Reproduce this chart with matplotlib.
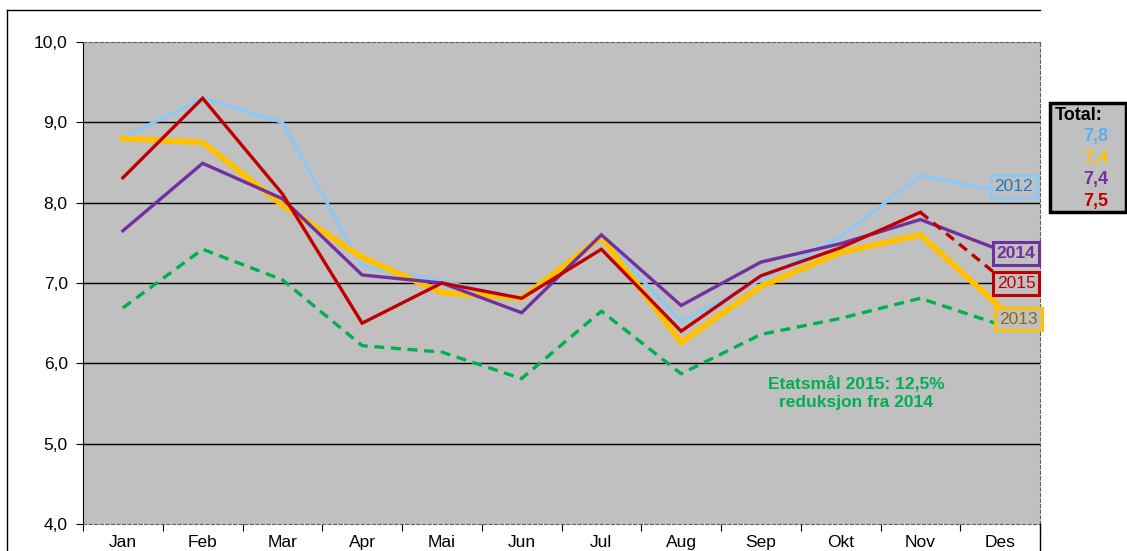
import numpy as np
import matplotlib.pyplot as plt
import matplotlib as mpl
from matplotlib.patches import Rectangle

#-----------------------------------------------------------------
#                            Data
#-----------------------------------------------------------------

months = ['Jan','Feb','Mar','Apr','Mai','Jun','Jul','Aug','Sep','Okt','Nov','Des']

v2012 = [8.81, 9.30, 9.00, 7.21, 7.02, 6.81, 7.58, 6.52, 7.04, 7.57, 8.34, 8.14]
v2013 = [8.80, 8.75, 7.97, 7.32, 6.88, 6.81, 7.57, 6.26, 6.96, 7.38, 7.60, 6.70]
v2014 = [7.65, 8.49, 8.05, 7.10, 7.00, 6.63, 7.60, 6.72, 7.26, 7.49, 7.79, 7.41]
v2015 = [8.31, 9.30, 8.11, 6.50, 7.00, 6.81, 7.42, 6.40, 7.09, 7.44, 7.88, 7.07]
goal = [6.69, 7.42, 7.04, 6.22, 6.14, 5.81, 6.65, 5.87, 6.36, 6.56, 6.81, 6.48]

totals = ['7,8', '7,4', '7,4', '7,5']

c2012 = '#8DC8F4'
c2013 = '#FFC000'
c2014 = '#7030A0'
c2015 = '#C00000'
cgoal = '#00B050'
bg = '#C0C0C0'

#-----------------------------------------------------------------
#                            Plot
#-----------------------------------------------------------------

mpl.rc('font', family=['Liberation Sans', 'DejaVu Sans'], size=12)

fig = plt.figure(figsize=(11.27, 5.51), dpi=100)
W, H = 1127., 551.
ax = fig.add_axes([83/W, 1-524/H, (1040-83)/W, (524-42)/H])
ax.set_facecolor(bg)

x = np.arange(len(months))

ax.plot(x, v2012, color=c2012, lw=2.4, solid_joinstyle='miter', zorder=3)
ax.plot(x, v2013, color=c2013, lw=4.2, solid_joinstyle='miter', zorder=4)
ax.plot(x, v2014, color=c2014, lw=2.4, solid_joinstyle='miter', zorder=5)
ax.plot(x[:11], v2015[:11], color=c2015, lw=2.4, solid_joinstyle='miter', zorder=6)
ax.plot(x[10:], v2015[10:], color=c2015, lw=2.4, ls=(0, (3, 2)), zorder=6)
ax.plot(x, goal, color=cgoal, lw=2.4, ls=(0, (3, 2)), zorder=3)

ax.set_xlim(-0.5, 11.5)
ax.set_ylim(4, 10)
ax.set_yticks(np.arange(4, 10.01, 1))
ax.yaxis.set_major_formatter(mpl.ticker.FuncFormatter(lambda v, p: ('%.1f' % v).replace('.', ',')))
ax.set_xticks(np.arange(-0.5, 11.6, 1))
ax.set_xticklabels([])
ax.set_xticks(x, minor=True)
ax.set_xticklabels(months, minor=True)
ax.tick_params(axis='x', which='minor', length=0, pad=8, labelsize=12.5)
ax.tick_params(axis='x', which='major', length=5, direction='out')
ax.tick_params(axis='y', length=5, direction='out', labelsize=12.5, pad=6)

for yv in [5, 6, 7, 8, 9]:
    ax.axhline(yv, color='black', lw=1, zorder=1)

ax.spines['left'].set_color('black')
for s in ['top', 'right', 'bottom']:
    ax.spines[s].set_color('#606060')
    ax.spines[s].set_linestyle((0, (3, 2)))
    ax.spines[s].set_linewidth(0.8)

# year labels at end of lines
box = dict(boxstyle='square,pad=0.22', fc=bg, lw=2.2)
ax.text(11.17, 8.20, '2012', color='#1F78C8', fontsize=12.5, ha='center', va='center', zorder=8,
        bbox=dict(box, ec=c2012))
ax.text(11.2, 7.37, '2014', color=c2014, fontsize=12.5, fontweight='bold', ha='center', va='center', zorder=8,
        bbox=dict(box, ec=c2014))
ax.text(11.2, 6.99, '2015', color=c2015, fontsize=12.5, ha='center', va='center', zorder=8,
        bbox=dict(box, ec=c2015))
ax.text(11.23, 6.55, '2013', color='#8A6A10', fontsize=12.5, ha='center', va='center', zorder=8,
        bbox=dict(box, ec=c2013))

ax.text((856-123)/79.75, 10-(375-42)/80.33, 'Etatsmål 2015: 12,5%\nreduksjon fra 2014', color=cgoal,
        fontsize=12.5, fontweight='bold', ha='center', va='top', linespacing=1.25)

# outer chart frame
fig.add_artist(plt.Line2D([7/W, 7/W], [0, 1-10/H], color='black', lw=1))
fig.add_artist(plt.Line2D([7/W, 1040/W], [1-10/H, 1-10/H], color='black', lw=1))
fig.add_artist(plt.Line2D([1040/W, 1040/W], [0, 1-524/H], color='black', lw=1))

# total box
fig.add_artist(Rectangle((1050/W, 1-212/H), 76/W, 109/H, transform=fig.transFigure,
                         fc=bg, ec='black', lw=2.5))
fig.text(1055/W, 1-116/H, 'Total:', fontsize=13, fontweight='bold', va='center', ha='left')
tcol = ['#5BAEF0', c2013, c2014, c2015]
for i, t in enumerate(totals):
    fig.text(1108/W, 1-(137+21.5*i)/H, t, color=tcol[i], fontsize=13, fontweight='bold',
             va='center', ha='right')

plt.savefig('out.png', dpi=100)
plt.close()
